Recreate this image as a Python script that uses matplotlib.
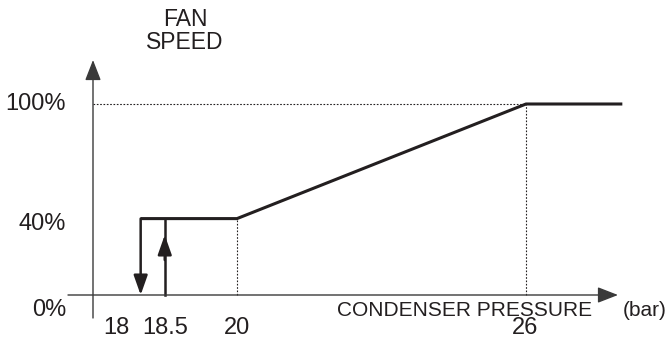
import numpy as np
import matplotlib
matplotlib.use("Agg")
import matplotlib.pyplot as plt

pressure = [18, 20, 26, 28.0]          # bar
fan_speed = [40, 40, 100, 100]         # %
hyst_off = 18.0                        # fan switches off (down arrow)
hyst_on = 18.5                         # fan switches on (up arrow)
x_ticks = [18, 18.5, 20, 26]
x_tick_labels = ["18", "18.5", "20", "26"]
y_levels = [0, 40, 100]
y_labels = ["0%", "40%", "100%"]

plt.rcParams['font.family'] = ['Liberation Sans', 'DejaVu Sans']

W, H = 668, 340
fig = plt.figure(figsize=(W / 100, H / 100), dpi=100)
ax = fig.add_axes([0, 0, 1, 1])
ax.axis('off')

# pixel-matched scales: 20 bar -> x 237, 26 bar -> x 526 ; 0% -> y 295, 100% -> y 104
px_per_bar = (526 - 237) / 6.0
px_per_pct = (295 - 104) / 100.0
ax.set_xlim(20 - 237 / px_per_bar, 20 + (W - 237) / px_per_bar)
ax.set_ylim(-(H - 295) / px_per_pct, 295 / px_per_pct)


def bx(px):
    return 20 + (px - 237) / px_per_bar


def py(py_):
    return (295 - py_) / px_per_pct


y_axis_x = bx(93)
ink = '#231f20'
axis_col = '#3a3a3a'

# axes with arrow heads
arrow = dict(arrowstyle='-|>,head_length=0.9,head_width=0.35', color=axis_col,
             lw=1.0, mutation_scale=14, shrinkA=0, shrinkB=0)
ax.annotate('', xy=(bx(618), 0), xytext=(bx(68), 0), arrowprops=arrow)
ax.annotate('', xy=(y_axis_x, py(60)), xytext=(y_axis_x, py(318)),
            arrowprops=arrow)

# dotted guides
dot = dict(ls=(0, (1.5, 1.5)), lw=0.8, color=ink)
ax.plot([y_axis_x, pressure[2]], [fan_speed[2], fan_speed[2]], **dot)
ax.plot([pressure[1], pressure[1]], [0, fan_speed[1]], **dot)
ax.plot([pressure[2], pressure[2]], [0, fan_speed[2]], **dot)

# characteristic curve
ax.plot([hyst_off] + pressure[1:], fan_speed, color=ink, lw=2.2, solid_capstyle='butt')

# hysteresis arrows
hyst = dict(arrowstyle='-|>,head_length=0.85,head_width=0.3', color=ink,
            lw=1.8, mutation_scale=14, shrinkA=0, shrinkB=0)
ax.annotate('', xy=(hyst_off, 0), xytext=(hyst_off, fan_speed[0]), arrowprops=hyst)
ax.plot([hyst_on, hyst_on], [0, fan_speed[0]], color=ink, lw=1.8)
ax.annotate('', xy=(hyst_on, py(235)), xytext=(hyst_on, py(260)), arrowprops=hyst)

# y labels
label_y_px = {0: 310, 40: 224, 100: 104}
for lv, lab in zip(y_levels, y_labels):
    ax.text(bx(66), py(label_y_px[lv]), lab, ha='right', va='center',
            fontsize=17, color=ink)

# x tick labels (offsets as drawn in the schematic)
label_px = [116, 165, 237, 525]
label_py = [328, 328, 328, 328.5]
for lx, ly, lab in zip(label_px, label_py, x_tick_labels):
    ax.text(bx(lx), py(ly), lab, ha='center', va='center', fontsize=17, color=ink)

ax.text(bx(337), py(310), 'CONDENSER PRESSURE', ha='left', va='center',
        fontsize=15, color=ink)
ax.text(bx(623), py(311), '(bar)', ha='left', va='center', fontsize=15, color=ink)
ax.text(bx(185), py(31), 'FAN\nSPEED', ha='center', va='center', fontsize=16.5,
        color=ink, linespacing=1.0)

fig.savefig('out.png', dpi=100)
